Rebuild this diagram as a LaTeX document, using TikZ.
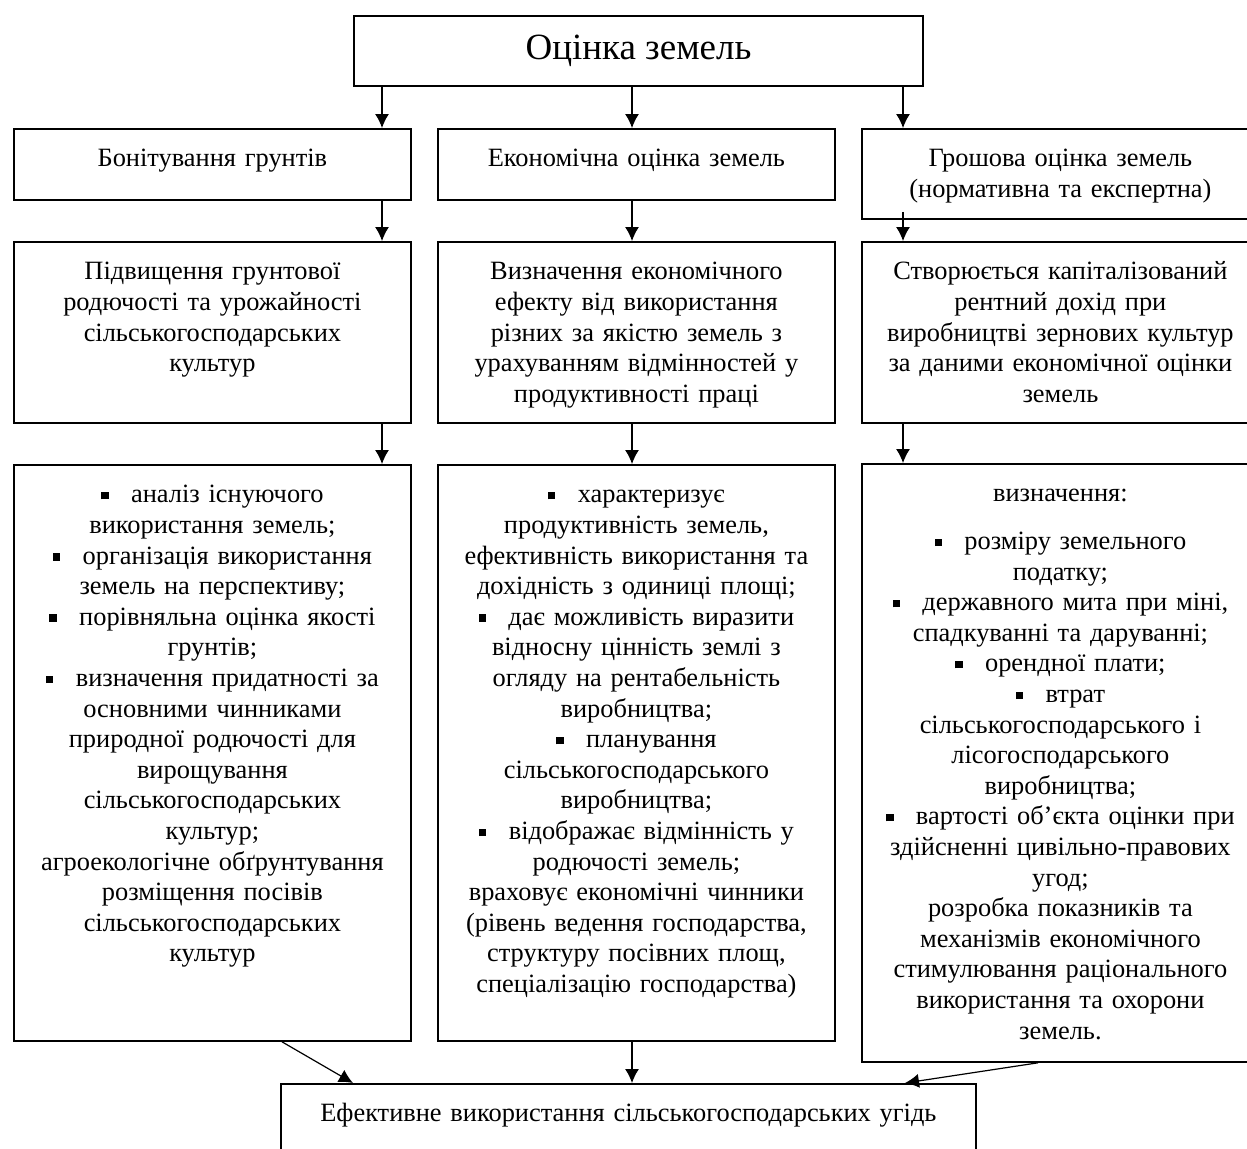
\documentclass[tikz,border=0pt]{standalone}
\usepackage{fontspec}
\setmainfont{Liberation Serif}
\usetikzlibrary{arrows.meta,calc}
\newcommand{\sqb}{\raisebox{0.13em}{\rule{0.28em}{0.28em}}\hspace{0.85em}}

\tikzset{
  pane/.style={draw, line width=0.9pt, anchor=north west, align=center,
    text width=188.5pt, inner xsep=5pt, inner ysep=0pt,
    font=\fontsize{13.2}{15.3}\selectfont, text height=19pt, text depth=#1},
}

\begin{document}
\begin{tikzpicture}[x=0.5pt, y=-0.5pt, >={Latex[length=7pt,width=7pt]}]
  \useasboundingbox (0,0) rectangle (1247,1148);
  \clip (0,0) rectangle (1247,1148);
  \node[draw, line width=0.9pt, minimum width=284.5pt, minimum height=35pt,
    font=\fontsize{18.5}{21}\selectfont] (ocinka) at (638.5,51) {Оцінка земель};
  % types of land evaluation
  \node[pane=16.5pt] (bon) at (13,128) {Бонітування грунтів};
  \node[pane=16.5pt] (eko) at (437,128) {Економічна оцінка земель};
  \node[pane=26pt] (gro) at (861,128) {Грошова оцінка земель\\(нормативна та експертна)};
  % purposes
  \node[pane=71.5pt] (bon2) at (13,241) {Підвищення грунтової\\родючості та урожайності\\сільськогосподарських\\культур};
  \node[pane=71.5pt] (eko2) at (437,241) {Визначення економічного\\ефекту від використання\\різних за якістю земель з\\урахуванням відмінностей у\\продуктивності праці};
  \node[pane=71.5pt] (gro2) at (861,241) {Створюється капіталізований\\рентний дохід при\\виробництві зернових культур\\за даними економічної оцінки\\земель};
  % tasks
  \node[pane=269pt] (bon3) at (13,464) {\sqb аналіз існуючого\\використання земель;\\\sqb організація використання\\земель на перспективу;\\\sqb порівняльна оцінка якості\\грунтів;\\\sqb визначення придатності за\\основними чинниками\\природної родючості для\\вирощування\\сільськогосподарських\\культур;\\агроекологічне обґрунтування\\розміщення посівів\\сільськогосподарських\\культур};
  \node[pane=269pt] (eko3) at (437,464) {\sqb характеризує\\продуктивність земель,\\ефективність використання та\\дохідність з одиниці площі;\\\sqb дає можливість виразити\\відносну цінність землі з\\огляду на рентабельність\\виробництва;\\\sqb планування\\сільськогосподарського\\виробництва;\\\sqb відображає відмінність у\\родючості земель;\\враховує економічні чинники\\(рівень ведення господарства,\\структуру посівних площ,\\спеціалізацію господарства)};
  \node[pane=280pt] (gro3) at (861,463) {визначення:\\[8.5pt]\sqb розміру земельного\\податку;\\\sqb державного мита при міні,\\спадкуванні та даруванні;\\\sqb орендної плати;\\\sqb втрат\\сільськогосподарського і\\лісогосподарського\\виробництва;\\\sqb вартості об’єкта оцінки при\\здійсненні цивільно-правових\\угод;\\розробка показників та\\механізмів економічного\\стимулювання раціонального\\використання та охорони\\земель.};
  % result
  \node[pane=31pt, text width=337.5pt] (eff) at (280,1083) {Ефективне використання сільськогосподарських угідь};
  \coordinate (c1) at (382,0);
  \coordinate (c2) at (632,0);
  \coordinate (c3) at (903,0);
  \coordinate (d1) at (282,0);
  \coordinate (d2) at (353,0);
  \coordinate (d3) at (1038,0);
  \coordinate (d4) at (905,0);
  \draw[line width=0.6pt, ->] (ocinka.south -| c1) -- (bon.north -| c1);
  \draw[line width=0.6pt, ->] (ocinka.south -| c2) -- (eko.north -| c2);
  \draw[line width=0.6pt, ->] (ocinka.south -| c3) -- (gro.north -| c3);
  \draw[line width=0.6pt, ->] (bon.south -| c1) -- (bon2.north -| c1);
  \draw[line width=0.6pt, ->] (eko.south -| c2) -- (eko2.north -| c2);
  \draw[line width=0.6pt, ->] ($(gro.south -| c3)+(0,-8)$) -- (gro2.north -| c3);
  \draw[line width=0.6pt, ->] (bon2.south -| c1) -- (bon3.north -| c1);
  \draw[line width=0.6pt, ->] (eko2.south -| c2) -- (eko3.north -| c2);
  \draw[line width=0.6pt, ->] (gro2.south -| c3) -- (gro3.north -| c3);
  \draw[line width=0.6pt, ->] (bon3.south -| d1) -- (eff.north -| d2);
  \draw[line width=0.6pt, ->] (eko3.south -| c2) -- (eff.north -| c2);
  \draw[line width=0.6pt, ->] (gro3.south -| d3) -- (eff.north -| d4);
\end{tikzpicture}
\end{document}
